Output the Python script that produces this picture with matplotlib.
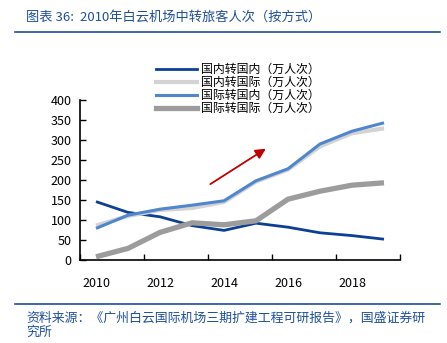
import matplotlib.pyplot as plt
import matplotlib.lines as mlines

plt.rcParams['font.family'] = ['Noto Sans CJK SC', 'DejaVu Sans']

years = list(range(2010, 2020))
dom_dom = [146, 119, 108, 86, 74, 92, 82, 68, 61, 52]
dom_int = [86, 110, 125, 130, 145, 196, 226, 284, 317, 329]
int_dom = [79, 112, 127, 137, 148, 198, 228, 290, 322, 343]
int_int = [8, 29, 69, 93, 88, 98, 152, 172, 187, 193]

labels = ['国内转国内（万人次）', '国内转国际（万人次）', '国际转国内（万人次）', '国际转国际（万人次）']
series = [dom_dom, dom_int, int_dom, int_int]
colours = ['#0D3F94', '#D3D3D3', '#4F86CC', '#9C9C9C']
widths = [2.0, 3.0, 2.2, 3.8]

navy = '#1F4F9C'

fig = plt.figure(figsize=(4.47, 3.43), dpi=100)
ax = fig.add_axes([80/447, 1 - 260/343, 320/447, 160/343])

# draw order: light gray under the medium blue
for i in [1, 3, 0, 2]:
  ax.plot(years, series[i], color=colours[i], lw=widths[i], solid_capstyle='butt', zorder=3 + i)

ax.annotate('', xy=(2015.38, 282), xytext=(2013.5, 186),
            arrowprops=dict(arrowstyle='-|>,head_length=0.6,head_width=0.3', color='#C00000', lw=1.3))

ax.set_xlim(2009.5, 2019.5)
ax.set_ylim(0, 400)
ax.set_yticks(range(0, 401, 50))
ax.set_xticks([2009.5 + 2 * k for k in range(6)])
ax.set_xticklabels([])
ax.set_xticks(years[::2], minor=True)
ax.set_xticklabels([str(y) for y in years[::2]], minor=True)
ax.tick_params(axis='x', which='minor', length=0, pad=12, labelsize=9)
ax.tick_params(axis='x', which='major', direction='in', length=4, width=1)
ax.tick_params(axis='y', direction='in', length=4, width=1, labelsize=9, pad=6)
for s in ['top', 'right']:
  ax.spines[s].set_visible(False)
for s in ['left', 'bottom']:
  ax.spines[s].set_linewidth(1.2)

handles = [mlines.Line2D([], [], color=colours[i], lw=widths[i]) for i in range(4)]
fig.legend(handles, labels, loc='upper left', bbox_to_anchor=(150/447, 1 - 57/343),
           frameon=False, fontsize=8.6, handlelength=3.4, handletextpad=0.4,
           labelspacing=0.0, borderpad=0)

fig.text(26/447, 1 - 17/343, '图表 36:  2010年白云机场中转旅客人次（按方式）',
         color=navy, fontsize=9.5, style='italic', va='center', ha='left')
fig.add_artist(mlines.Line2D([15/447, 440/447], [1 - 32/343, 1 - 32/343], color=navy, lw=1.2))
fig.add_artist(mlines.Line2D([15/447, 440/447], [1 - 304/343, 1 - 304/343], color=navy, lw=1.2))
fig.text(26/447, 1 - 318/343, '资料来源：《广州白云国际机场三期扩建工程可研报告》，国盛证券研',
         color=navy, fontsize=9.3, style='italic', va='center', ha='left')
fig.text(26/447, 1 - 332/343, '究所', color=navy, fontsize=9.3, style='italic', va='center', ha='left')

fig.savefig('out.png', dpi=100)
